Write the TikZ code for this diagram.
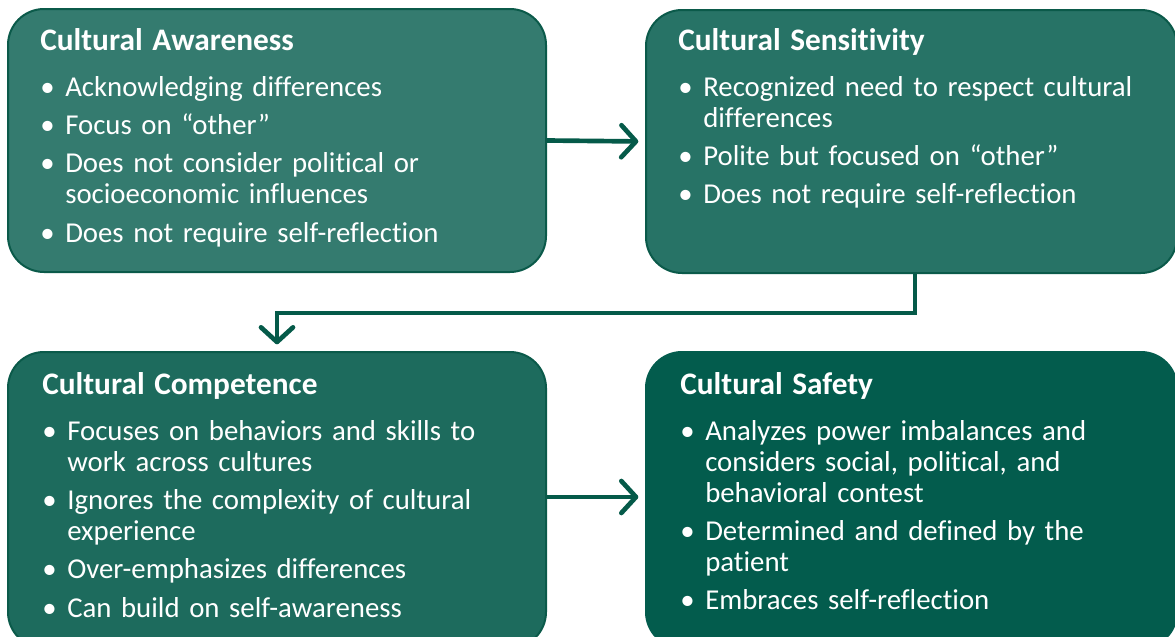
\documentclass[tikz,border=0pt]{standalone}
\usepackage{fontspec}
\setmainfont{Carlito}[Ligatures=NoCommon]
\usepackage{enumitem}
\usetikzlibrary{arrows.meta}

\definecolor{awarefill}{HTML}{347B6F}
\definecolor{sensefill}{HTML}{277366}
\definecolor{competefill}{HTML}{1D6B5D}
\definecolor{safefill}{HTML}{035C4D}
\definecolor{stageline}{HTML}{0B5A4A}
\definecolor{flowgreen}{HTML}{055A49}

\setlist[itemize]{label=\textbullet, leftmargin=18.75pt, labelsep=8pt,
  topsep=11.25pt, partopsep=0pt, itemsep=5.6pt, parsep=0pt}

\newcommand\stagetitle[1]{{\fontsize{23.5pt}{23.25pt}\selectfont\bfseries #1}}

\tikzset{
  stage/.style={draw=stageline, line width=1.5pt, rounded corners=27pt, inner sep=0pt},
  stagetext/.style={text=white, text width=395pt, align=left, anchor=base west,
    inner sep=0pt, font=\fontsize{21.6pt}{23.25pt}\selectfont},
  flow/.style={draw=flowgreen, line width=3.5pt,
    -{Straight Barb[length=11pt, width=24pt, round]}, shorten >=5pt},
}

\begin{document}
\begin{tikzpicture}[x=0.75pt, y=-0.75pt]
\useasboundingbox (0,0) rectangle (1175,636);

% the four stages
\node[stage, fill=awarefill, minimum width=403.5pt, minimum height=197.25pt] (awareness) at (277,140.5) {};
\node[stage, fill=sensefill, minimum width=398.25pt, minimum height=197.25pt] (sensitivity) at (911.5,141.5) {};
\node[stage, fill=competefill, minimum width=403.5pt, minimum height=222pt] (competence) at (277,500) {};
\node[stage, fill=safefill, draw=safefill, minimum width=398.25pt, minimum height=222pt] (safety) at (911.5,500) {};

% texts
\node[stagetext] (awareness text) at (40,50) {\stagetitle{Cultural Awareness}
\begin{itemize}
\item Acknowledging differences
\item Focus on “other”
\item Does not consider political or\newline socioeconomic influences
\item Does not require self-reflection
\end{itemize}};
\node[stagetext] (sensitivity text) at (678,50) {\stagetitle{Cultural Sensitivity}
\begin{itemize}
\item Recognized need to respect cultural\newline differences
\item Polite but focused on “other”
\item Does not require self-reflection
\end{itemize}};
\node[stagetext] (competence text) at (42,394) {\stagetitle{Cultural Competence}
\begin{itemize}
\item Focuses on behaviors and skills to\newline work across cultures
\item Ignores the complexity of cultural\newline experience
\item Over-emphasizes differences
\item Can build on self-awareness
\end{itemize}};
\node[stagetext] (safety text) at (680,394) {\stagetitle{Cultural Safety}
\begin{itemize}
\item Analyzes power imbalances and\newline considers social, political, and\newline behavioral contest
\item Determined and defined by the\newline patient
\item Embraces self-reflection
\end{itemize}};

% arrows
\draw[flow] (awareness.east) -- (sensitivity.west);
\draw[flow] ([yshift=2.25pt]competence.east) -- ([yshift=2.25pt]safety.west);
\draw[flow] ([xshift=2.6pt]sensitivity.south) -- ++(0,39) -| (competence.north);
\end{tikzpicture}
\end{document}
